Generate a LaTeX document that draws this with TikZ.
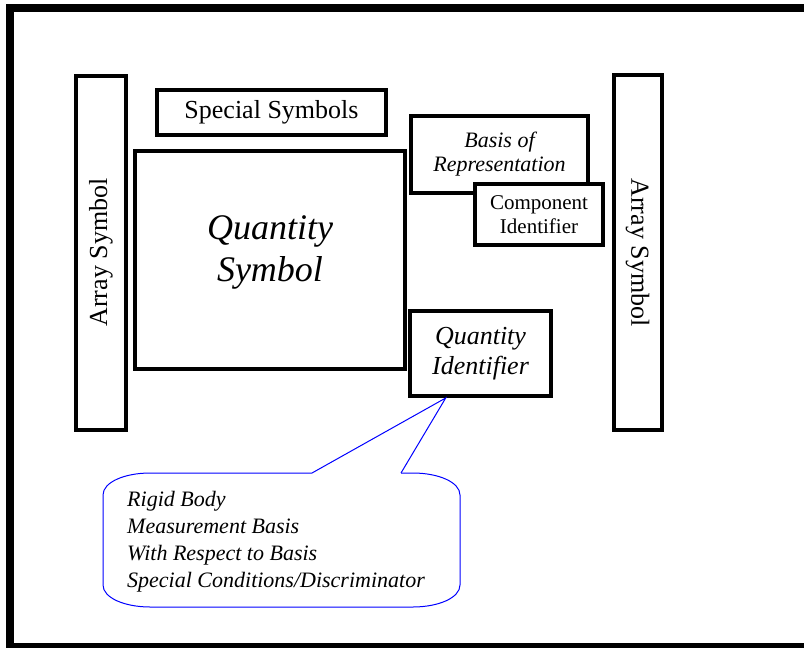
\documentclass[tikz,border=0pt]{standalone}
\usepackage{fontspec}
\setmainfont{Liberation Serif}
\usetikzlibrary{calc}

\tikzset{
  symbox/.style={draw, line width=4pt, fill=white, inner sep=0pt, align=center},
  callout/.style={draw=blue, line width=1pt},
}

\begin{document}
\begin{tikzpicture}[x=1pt, y=-1pt]
			%%%%% START %%%%%
			\clip (0, 0) rectangle (804, 648);
			\draw[line width=8pt] (10, 8) rectangle (830, 647);
			
			\node[symbox, minimum width=50, minimum height=354, font=\fontsize{26}{30}\selectfont] (arrayL) at (101, 252.5) {\rotatebox{90}{Array Symbol}};
			\node[symbox, minimum width=48, minimum height=355, font=\fontsize{26}{30}\selectfont] (arrayR) at (637.5, 252.5) {\rotatebox{-90}{Array Symbol}};
			
			\node[symbox, minimum width=229, minimum height=45, font=\fontsize{26}{30}\selectfont] (special) at (271.5, 112.5) {Special Symbols};
			\node[symbox, minimum width=270, minimum height=218,
			      label={[font=\fontsize{36}{42}\selectfont\itshape, align=center, yshift=8]center:{Quantity\\Symbol}}] (qsym) at (270, 260) {};
			
			\node[symbox, minimum width=177, minimum height=77, font=\fontsize{22}{24}\selectfont\itshape] (basis) at (499.5, 154.5) {Basis of\\Representation};
			\node[symbox, minimum width=128, minimum height=61, font=\fontsize{21}{24}\selectfont] (compid) at (539, 214.5) {Component\\Identifier};
			\node[symbox, minimum width=141, minimum height=85, font=\fontsize{26}{30}\selectfont\itshape] (qid) at (480.5, 353.5) {Quantity\\Identifier};
			
			% callout
			\coordinate (tip) at ($(qid.south west)!0.26!(qid.south east)$);
			\draw[callout] (312, 473) -- (tip) -- (401, 473);
			\draw[callout] (401, 473) -- (413, 473) .. controls (438, 473) and (460, 482) .. (460, 495) -- (460, 585)
			  .. controls (460, 598) and (438, 607) .. (413, 607) -- (150, 607) .. controls (125, 607) and (103, 598) .. (103, 585)
			  -- (103, 495) .. controls (103, 482) and (125, 473) .. (150, 473) -- (312, 473);
			\node[anchor=west, align=left, inner sep=0pt, font=\fontsize{22}{27}\selectfont\itshape] (notes) at (127, 542)
			  {Rigid Body\\Measurement Basis\\With Respect to Basis\\Special Conditions/Discriminator};
			%%%%% END %%%%%
\end{tikzpicture}
\end{document}
